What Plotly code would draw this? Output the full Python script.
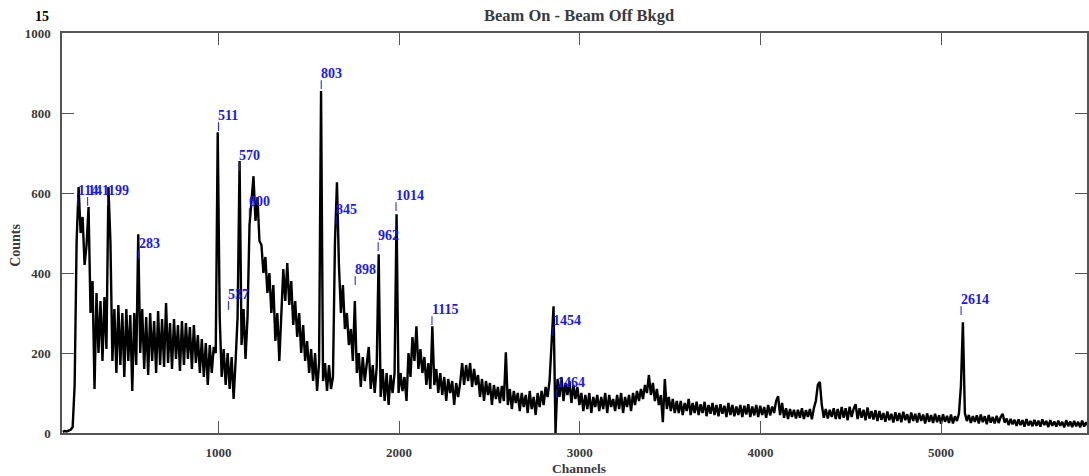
import plotly.graph_objects as go

# ---------------- data ----------------
channel_start = 138
channel_step = 11
counts = [
    3, 5, 4, 6, 8, 15, 120, 480, 615, 500,
    540, 420, 470, 565, 300, 380, 110, 350, 200, 330,
    180, 340, 210, 615, 480, 180, 310, 150, 320, 170,
    300, 140, 310, 180, 295, 105, 300, 170, 497, 200,
    310, 160, 290, 145, 300, 180, 280, 150, 305, 170,
    285, 165, 325, 175, 275, 160, 285, 185, 270, 155,
    280, 170, 275, 185, 265, 160, 270, 175, 245, 150,
    235, 140, 225, 120, 220, 150, 215, 200, 752, 290,
    140, 210, 120, 200, 110, 190, 85, 180, 290, 680,
    220, 310, 185, 290, 520, 580, 642, 530, 590, 480,
    470, 400, 440, 350, 400, 300, 370, 230, 300, 180,
    280, 410, 330, 425, 320, 380, 270, 330, 240, 300,
    200, 270, 180, 230, 150, 210, 130, 200, 105, 175,
    855, 130, 175, 105, 170, 110, 140, 477, 627, 420,
    300, 370, 260, 300, 220, 260, 180, 330, 150, 200,
    115, 190, 130, 175, 215, 110, 170, 100, 165, 447,
    90, 160, 80, 150, 70, 145, 100, 150, 547, 100,
    150, 105, 140, 80, 200, 140, 240, 180, 267, 160,
    210, 150, 190, 120, 175, 110, 267, 120, 160, 100,
    150, 95, 140, 80, 135, 100, 130, 70, 125, 90,
    125, 175, 120, 170, 130, 175, 115, 160, 120, 145,
    90, 135, 80, 130, 95, 125, 70, 120, 85, 115,
    75, 118, 80, 202, 70, 110, 60, 105, 75, 100,
    55, 100, 65, 95, 50, 105, 60, 90, 45, 100,
    65, 105, 70, 115, 90, 130, 217, 317, 0, 135,
    90, 140, 80, 125, 95, 130, 75, 120, 85, 115,
    70, 100, 55, 95, 60, 100, 50, 90, 65, 95,
    55, 90, 60, 100, 50, 95, 65, 85, 55, 95,
    60, 100, 50, 90, 65, 95, 55, 100, 70, 105,
    80, 110, 85, 120, 100, 145, 95, 125, 80, 110,
    70, 95, 27, 135, 60, 90, 55, 85, 50, 80,
    50, 80, 45, 75, 55, 85, 45, 75, 50, 78,
    45, 72, 50, 78, 42, 70, 48, 75, 45, 70,
    42, 72, 48, 68, 40, 75, 45, 70, 42, 66,
    45, 70, 40, 68, 46, 72, 40, 66, 44, 70,
    40, 68, 45, 65, 38, 70, 44, 66, 50, 80,
    92, 45, 75, 38, 62, 35, 60, 40, 58, 36,
    58, 38, 62, 35, 57, 40, 60, 34, 62, 80,
    120, 128, 70, 38, 60, 36, 58, 40, 62, 35,
    60, 35, 65, 38, 62, 32, 66, 40, 60, 72,
    35, 62, 38, 58, 32, 64, 36, 55, 34, 57,
    30, 55, 33, 50, 28, 54, 32, 48, 26, 52,
    30, 50, 27, 53, 32, 47, 25, 51, 30, 48,
    26, 50, 30, 46, 24, 49, 28, 45, 25, 48,
    27, 44, 23, 47, 28, 43, 25, 46, 24, 42,
    30, 48, 117, 277, 50, 30, 45, 25, 42, 28,
    44, 24, 46, 27, 42, 22, 45, 26, 40, 24,
    43, 25, 40, 48, 26, 36, 20, 35, 22, 33,
    18, 34, 20, 32, 16, 35, 19, 30, 17, 33,
    18, 31, 16, 34, 20, 30, 15, 32, 18, 29,
    16, 31, 18, 28, 14, 32, 17, 29, 15, 30,
    17, 28, 14, 31, 16, 27, 18,
]
channels = [channel_start + channel_step * i for i in range(len(counts))]

peak_names = ["114", "141", "199", "283", "511", "537", "570", "600", "803",
              "845", "898", "962", "1014", "1115", "1454", "1464", "2614"]
peak_channels = [221, 276, 387, 558, 1000, 1055, 1116, 1171, 1569,
                 1652, 1757, 1884, 1983, 2182, 2851, 2873, 5111]
peak_marker_tops = [590, 590, 590, 457, 777, 330, 677, 562, 882,
                    542, 392, 477, 577, 292, 265, 110, 317]
marker_len = 22

x_ticks = [1000, 2000, 3000, 4000, 5000]
y_ticks = [0, 200, 400, 600, 800, 1000]
x_range = [134, 5808]
y_range = [0, 1000]

# ---------------- figure ----------------
SERIF = "Liberation Serif"
AXC = "#555555"
LBL = "#3a3a3a"
BLUE = "#1a1ae6"

fig = go.Figure()
fig.add_trace(go.Scatter(x=channels, y=counts, mode="lines",
                         line=dict(color="black", width=2.4),
                         hoverinfo="skip", showlegend=False))

for name, ch, top in zip(peak_names, peak_channels, peak_marker_tops):
    fig.add_shape(type="line", x0=ch, x1=ch, y0=top - marker_len, y1=top,
                  xref="x", yref="y", line=dict(color=BLUE, width=1))
    fig.add_annotation(x=ch, y=top, text=name, xref="x", yref="y",
                       xanchor="left", yanchor="bottom", showarrow=False,
                       xshift=-2, yshift=-3,
                       font=dict(family=SERIF, size=14, color=BLUE, weight="bold"))

axis_common = dict(ticks="inside", ticklen=12, tickwidth=1, tickcolor=AXC,
                   showline=True, linecolor=AXC, linewidth=1.5, mirror="ticks",
                   showgrid=False, zeroline=False,
                   tickfont=dict(family=SERIF, size=13, color=LBL, weight="bold"),
                   ticklabelstandoff=7)

fig.update_layout(
    width=1089, height=476,
    margin=dict(l=62, r=0, t=33, b=43),
    paper_bgcolor="white", plot_bgcolor="white",
    xaxis=dict(range=x_range, tickvals=x_ticks, **axis_common),
    yaxis=dict(range=y_range, tickvals=y_ticks, **axis_common),
)

fig.add_annotation(text="Beam On - Beam Off Bkgd", xref="paper", yref="paper",
                   x=0.504, y=1.045, xanchor="center", yanchor="middle", showarrow=False,
                   font=dict(family=SERIF, size=16.5, color=LBL, weight="bold"))
fig.add_annotation(text="15", xref="paper", yref="paper",
                   x=-0.0195, y=1.04, xanchor="center", yanchor="middle", showarrow=False,
                   font=dict(family=SERIF, size=14, color="black", weight="bold"))
fig.add_annotation(text="Counts", xref="paper", yref="paper", textangle=-90,
                   x=-0.046, y=0.47, xanchor="center", yanchor="middle", showarrow=False,
                   font=dict(family=SERIF, size=14, color=LBL, weight="bold"))
fig.add_annotation(text="Channels", xref="paper", yref="paper",
                   x=0.504, y=-0.088, xanchor="center", yanchor="middle", showarrow=False,
                   font=dict(family=SERIF, size=13.5, color=LBL, weight="bold"))

fig.write_html("out.html")
